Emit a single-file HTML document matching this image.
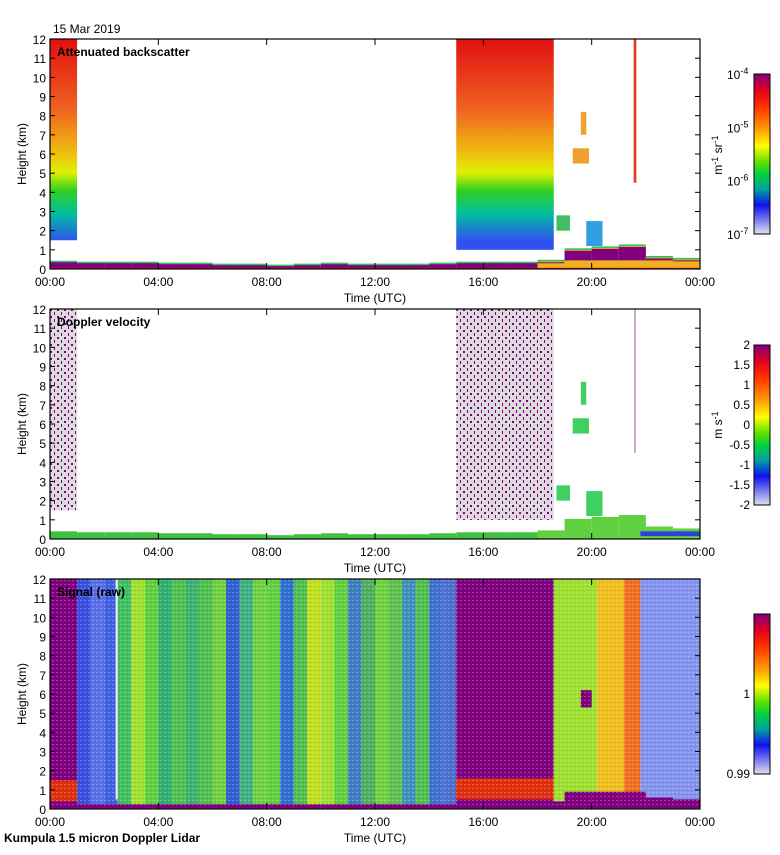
<!DOCTYPE html>
<html><head><meta charset="utf-8"><style>
body{margin:0;background:#fff}
svg text{font-family:"Liberation Sans",sans-serif;font-size:12px;fill:#000}
</style></head><body>
<svg id="c" xmlns="http://www.w3.org/2000/svg" width="780" height="850" viewBox="0 0 780 850">
<defs>
<linearGradient id="jet" x1="0" y1="0" x2="0" y2="1">
<stop offset="0" stop-color="#800080"/><stop offset="0.1" stop-color="#e00020"/><stop offset="0.2" stop-color="#ff3000"/><stop offset="0.35" stop-color="#ffa000"/><stop offset="0.45" stop-color="#ffff00"/><stop offset="0.55" stop-color="#60e000"/><stop offset="0.63" stop-color="#00d040"/><stop offset="0.72" stop-color="#00a0a0"/><stop offset="0.82" stop-color="#1010f0"/><stop offset="1" stop-color="#e0e0f0"/>
</linearGradient>
<linearGradient id="col" gradientUnits="userSpaceOnUse" x1="0" y1="39" x2="0" y2="269">
<stop offset="0" stop-color="#e01010"/><stop offset="0.3" stop-color="#f06020"/><stop offset="0.5" stop-color="#f0c010"/><stop offset="0.58" stop-color="#e0f000"/><stop offset="0.66" stop-color="#30d020"/><stop offset="0.76" stop-color="#00c0a0"/><stop offset="0.88" stop-color="#3050f0"/><stop offset="1" stop-color="#3050f0"/>
</linearGradient>
<pattern id="speck" width="7" height="7" patternUnits="userSpaceOnUse">
<rect width="7" height="7" fill="#dcdcdc"/><rect x="1" y="1" width="2" height="2" fill="#800080"/><rect x="5" y="4" width="1" height="3" fill="#800080"/>
</pattern>
<pattern id="noise" width="4" height="4" patternUnits="userSpaceOnUse">
<rect x="0" y="0" width="2" height="1" fill="#ffffff" opacity="0.25"/><rect x="2" y="2" width="2" height="1" fill="#000000" opacity="0.08"/>
</pattern>
</defs>
<g id="g"></g>
</svg>
<script>
// ---- data ----
const timeTicks = ["00:00","04:00","08:00","12:00","16:00","20:00","00:00"];
const heightTicks = [0,1,2,3,4,5,6,7,8,9,10,11,12];
// backscatter cloud columns [startH, endH, bottomKm, topKm]
const bsColumns = [[0,1.0,1.5,12],[15.0,18.6,1.0,12]];
// boundary layer height (km) per 1h, 00..24
const blHeight = [0.35,0.3,0.3,0.3,0.25,0.25,0.2,0.2,0.15,0.2,0.25,0.2,0.2,0.2,0.25,0.3,0.3,0.3,0.4,1.0,1.1,1.2,0.6,0.5,0.5];
// small clouds after 18.6 [startH, endH, bottomKm, topKm]
const bsClouds = [[19.3,19.9,5.5,6.3],[19.6,19.8,7.0,8.2],[18.7,19.2,2.0,2.8],[19.8,20.4,1.2,2.5],[21.55,21.65,4.5,12.0]];
// signal stripes (1..15 h, half-hour bins)
const sigStart = 1.0;
const sigStripes = ["#3a50e0","#5a70e8","#4060e0","#40c060","#a0e030","#60d040","#30b070","#50c050","#40b070","#50c050","#70d040","#3060d0","#40b080","#70d040","#60d040","#3070d0","#50c050","#c0e020","#a0e030","#60d040","#4080c0","#50b060","#70d040","#60c050","#4090c0","#50c050","#4070d0","#5070d0"];
const sigLate = [[18.6,20.2,"#a0e030"],[20.2,21.2,"#f0c020"],[21.2,21.8,"#f07020"],[21.8,24,"#8595f0"]];
const bsCbLabels = ["-4","-5","-6","-7"];
const velCbLabels = ["2","1.5","1","0.5","0","-0.5","-1","-1.5","-2"];

const NS="http://www.w3.org/2000/svg";
const G=document.getElementById('g');
const X0=50,W=650,H=230,tops=[39,309,579];
function xs(h){return X0+h/24*W;}
function ys(km,t){return t+H-km/12*H;}
function el(tag,attrs,parent){const e=document.createElementNS(NS,tag);for(const k in attrs)e.setAttribute(k,attrs[k]);(parent||G).appendChild(e);return e;}
function rect(h0,h1,k0,k1,t,fill,name){const e=el('rect',{x:xs(h0),y:ys(k1,t),width:xs(h1)-xs(h0),height:ys(k0,t)-ys(k1,t),fill:fill});

return e;}
function txt(x,y,s,anchor,extra){const e=el('text',Object.assign({x:x,y:y,'text-anchor':anchor||'start'},extra||{}));e.textContent=s;return e;}

const cloudCol1=['#f0a030','#f0a030','#40c060','#30a0e0','#e04020'];
// Panel 1
let t=tops[0];
bsColumns.forEach(c=>rect(c[0],c[1],c[2],c[3],t,'url(#col)','backscatter-cloud'));
for(let i=0;i<24;i++){
  rect(i,i+1,0,blHeight[i]+0.08,t,'#30c060','backscatter-bl-edge');
  rect(i,i+1,0,blHeight[i],t,i>=18?'#f0b020':'#800080','backscatter-bl');
  if(i>=18) rect(i,i+1,Math.min(0.45,blHeight[i]-0.1),blHeight[i]-0.05,t,'#800080','backscatter-bl-band');
  rect(i,i+1,0,0.06,t,'#e02020','backscatter-surface');
}
bsClouds.forEach((c,i)=>rect(c[0],c[1],c[2],c[3],t,cloudCol1[i],'backscatter-cloud-small'));

// Panel 2
t=tops[1];
bsColumns.forEach(c=>rect(c[0],c[1],c[2],c[3],t,'url(#speck)','velocity-cloud'));
for(let i=0;i<24;i++){
  rect(i,i+1,0,blHeight[i]+0.05,t,i>=18?'#60d040':'#40c040','velocity-bl');
}
rect(21.8,24,0.15,0.4,t,'#3040e0','velocity-bl-band');
bsClouds.forEach((c,i)=>{ if(i<4) rect(c[0],c[1],c[2],c[3],t,'#40d060','velocity-cloud-small'); else rect(c[0]+0.03,c[1]-0.03,c[2],c[3],t,'#a060a0','velocity-cloud-small');});

// Panel 3
t=tops[2];
rect(0,1,0,12,t,'#800080','signal-early');
rect(0,1,0.4,1.5,t,'#e03010','signal-early-low');
sigStripes.forEach((c,i)=>rect(sigStart+i*0.5,sigStart+(i+1)*0.5,0,12,t,c,'signal-stripe'));
rect(2.42,2.5,0.5,12,t,'#e8e8f8','signal-white-line');
rect(15,18.6,0,12,t,'#800080','signal-cloud');
rect(15,18.6,0.5,1.6,t,'#e03010','signal-cloud-low');
sigLate.forEach(s=>rect(s[0],s[1],0,12,t,s[2],'signal-late'));
rect(19.6,20.0,5.3,6.2,t,'#800080','signal-cloud-small');
for(let i=0;i<24;i++) rect(i,i+1,0,i>=18?Math.min(blHeight[i],0.9):0.25,t,'#800080','signal-bl');
rect(0,24,0,12,t,'url(#noise)','signal-noise');

// Axes
const labels=["Attenuated backscatter","Doppler velocity","Signal (raw)"];
tops.forEach((t,p)=>{
  el('rect',{x:X0,y:t,width:W,height:H,fill:'none',stroke:'#000','stroke-width':1.2});
  heightTicks.forEach(k=>{
    const y=ys(k,t);
    el('line',{x1:X0,x2:X0+5,y1:y,y2:y,stroke:'#000'});
    el('line',{x1:X0+W-5,x2:X0+W,y1:y,y2:y,stroke:'#000'});
    txt(46,y+5,String(k),'end',{'font-size':'13'});
  });
  timeTicks.forEach((s,i)=>{
    const x=xs(i*4);
    el('line',{x1:x,x2:x,y1:t,y2:t+6,stroke:'#000'});
    el('line',{x1:x,x2:x,y1:t+H-6,y2:t+H,stroke:'#000'});
    txt(x,t+H+17,s,'middle',{'font-size':'13'});
  });
  txt(375,t+H+33,"Time (UTC)",'middle');
  txt(26,t+H/2,"Height (km)",'middle',{transform:`rotate(-90 26 ${t+H/2})`});
  txt(57,t+17,labels[p],'start',{'font-weight':'bold','font-size':'13'});
});
txt(53,33,"15 Mar 2019",'start');
txt(4,842,"Kumpula 1.5 micron Doppler Lidar",'start',{'font-weight':'bold'});

// Colorbars
const cb=[[74,234],[345,505],[614,774]];
cb.forEach(c=>el('rect',{x:754,y:c[0],width:16,height:c[1]-c[0],fill:'url(#jet)',stroke:'#000'}));
bsCbLabels.forEach((s,i)=>{const y=74+i*160/3;const e=txt(727,y+5,"10",'start');const s2=el('tspan',{dy:-5,'font-size':'9'},e);s2.textContent=s;});
velCbLabels.forEach((s,i)=>txt(750,345+i*20+4,s,'end'));
txt(750,698,"1",'end');txt(750,778,"0.99",'end');
let u=txt(722,155,"m",'middle',{transform:'rotate(-90 722 155)'});
let a=el('tspan',{dy:-4,'font-size':'9'},u);a.textContent="-1";
a=el('tspan',{dy:4},u);a.textContent=" sr";
a=el('tspan',{dy:-4,'font-size':'9'},u);a.textContent="-1";
u=txt(722,425,"m s",'middle',{transform:'rotate(-90 722 425)'});
a=el('tspan',{dy:-4,'font-size':'9'},u);a.textContent="-1";
</script>
</body></html>
